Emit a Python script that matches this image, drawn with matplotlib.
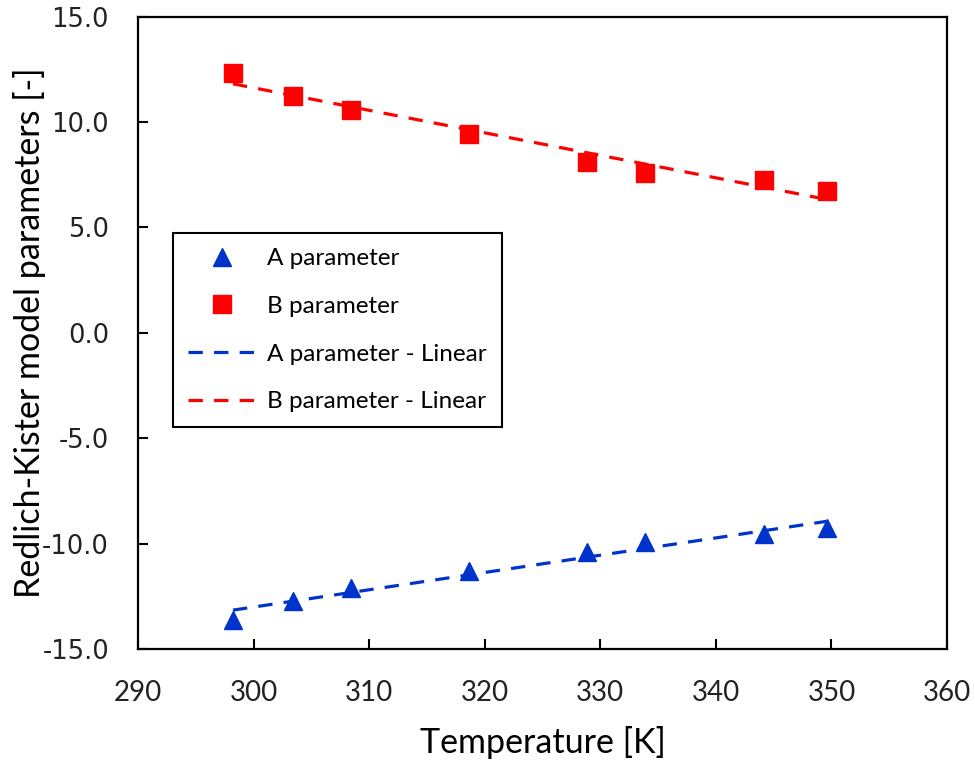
import numpy as np
import matplotlib
matplotlib.use("Agg")
import matplotlib.pyplot as plt

# Redlich-Kister parameters vs temperature
temperatura = [298.2, 303.4, 308.4, 318.6, 328.8, 333.9, 344.2, 349.6]
param_a = [-13.60, -12.73, -12.12, -11.28, -10.41, -9.94, -9.54, -9.26]
param_b = [12.34, 11.26, 10.58, 9.43, 8.10, 7.56, 7.25, 6.71]

niebieski = '#0033CC'
czerwony = '#FF0000'

fig = plt.figure(figsize=(9.75, 7.65), dpi=100)
ax = fig.add_axes([0.1418, 0.1516, 0.8295, 0.8266])

t = np.array(temperatura)
fit_a = np.polyfit(t, param_a, 1)
fit_b = np.polyfit(t, param_b, 1)
t_lin = np.array([t.min(), t.max()])

ax.plot(t, param_a, linestyle='none', marker='^', markersize=12.5,
        color=niebieski, label='A parameter', zorder=2)
ax.plot(t, param_b, linestyle='none', marker='s', markersize=13,
        color=czerwony, label='B parameter', zorder=2)
ax.plot(t_lin, np.polyval(fit_a, t_lin), linestyle=(0, (4.5, 3.5)), linewidth=2.3,
        color=niebieski, label='A parameter - Linear', zorder=3)
ax.plot(t_lin, np.polyval(fit_b, t_lin), linestyle=(0, (4.5, 3.5)), linewidth=2.3,
        color=czerwony, label='B parameter - Linear', zorder=3)

ax.set_xlim(290, 360)
ax.set_ylim(-15, 15)
ax.set_xticks(np.arange(290, 361, 10))
ax.set_yticks(np.arange(-15, 15.1, 5))
ax.set_yticklabels([f'{v:.1f}' for v in np.arange(-15, 15.1, 5)],
                   family='DejaVu Sans', fontsize=18.5, color='#222222')
ax.set_xticklabels([str(v) for v in range(290, 361, 10)], family='Lato',
                   fontsize=20, color='#222222')

ax.tick_params(direction='in', length=7, width=1.5, top=False, right=False)
ax.tick_params(axis='x', pad=22)
ax.tick_params(axis='y', pad=21)
for s in ax.spines.values():
    s.set_linewidth(1.6)

ax.set_xlabel('Temperature [K]', family='Lato', fontsize=24.5, labelpad=15)
ax.set_ylabel('Redlich-Kister model parameters [-]', family='Lato', fontsize=24.5, labelpad=-3)

leg = ax.legend(loc='upper left', bbox_to_anchor=(0.043, 0.658), borderaxespad=0,
                prop={'family': 'Lato', 'size': 17.5},
                frameon=True, fancybox=False, edgecolor='black', framealpha=1,
                handlelength=2.8, labelspacing=1.1, borderpad=0.62, handletextpad=0.45)
leg.get_frame().set_linewidth(1.5)

fig.savefig('out.png', dpi=100)
